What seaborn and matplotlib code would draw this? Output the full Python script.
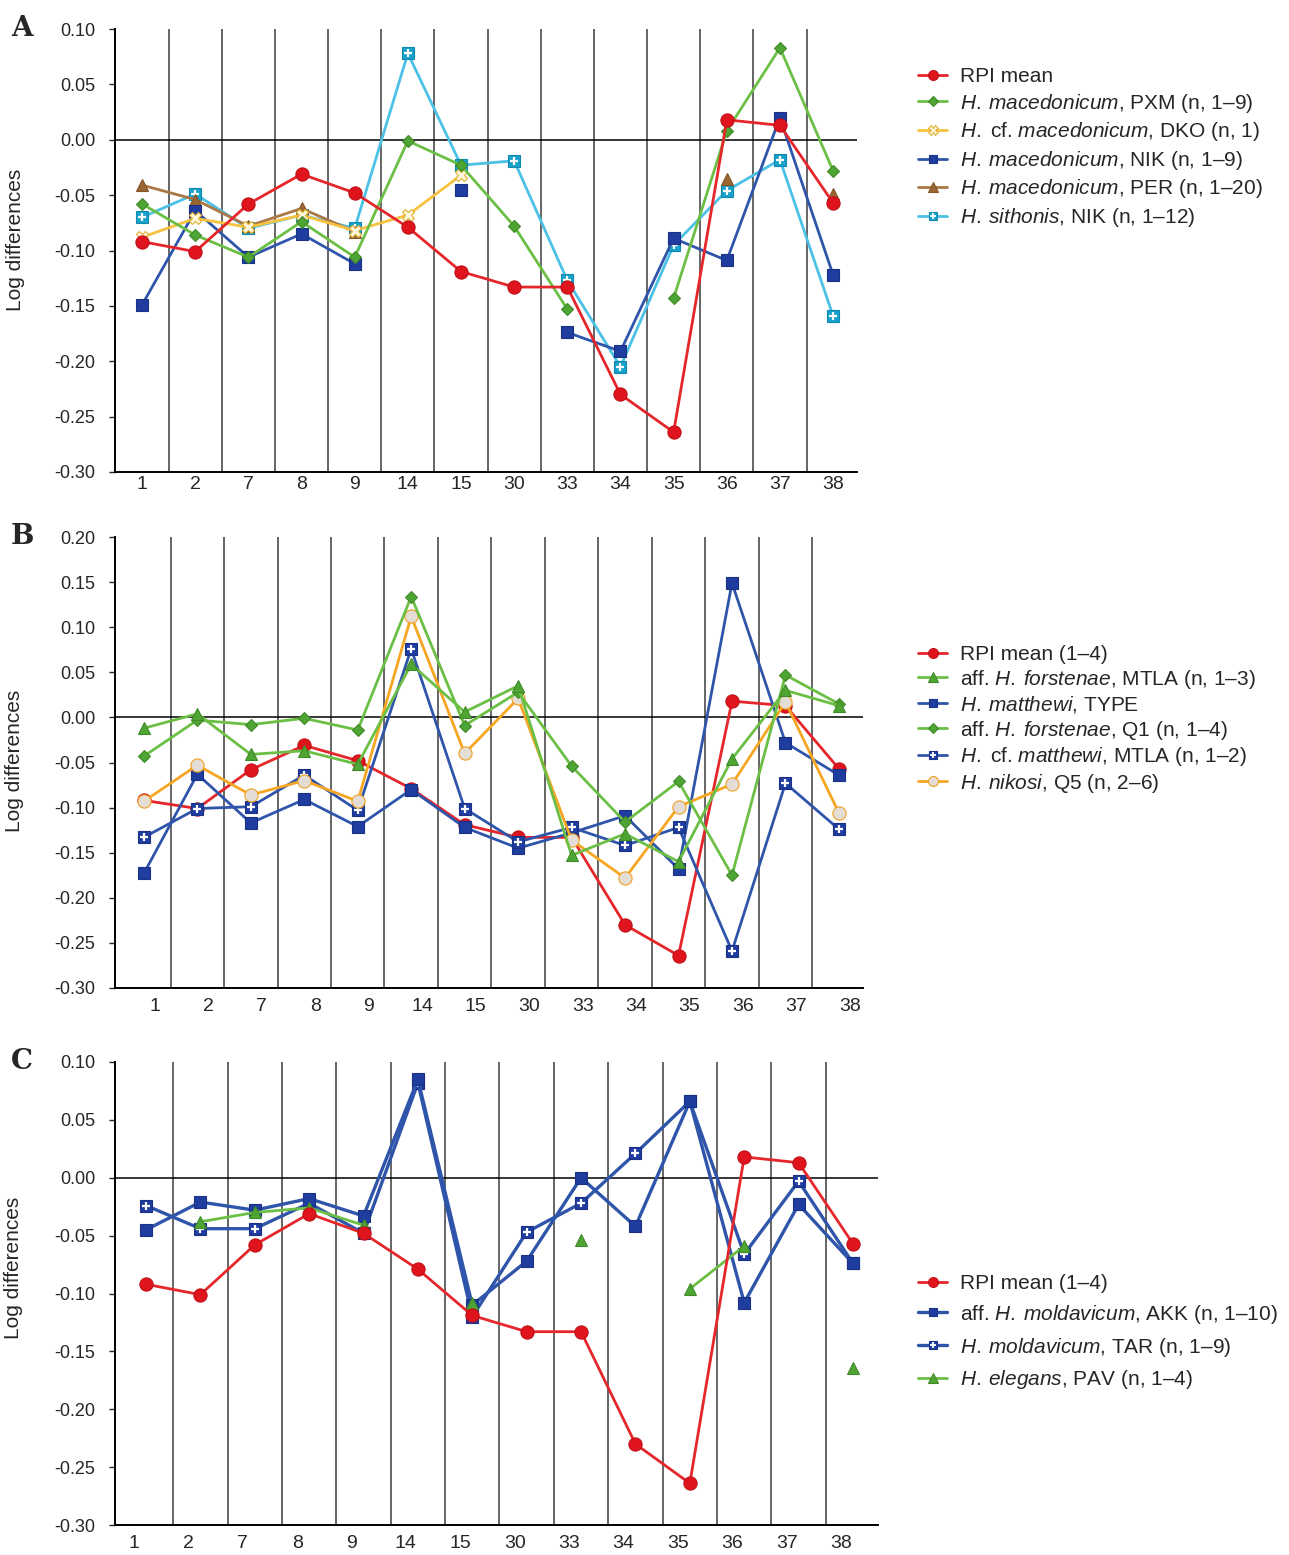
import numpy as np
import pandas as pd
import matplotlib
matplotlib.use("Agg")
import matplotlib.pyplot as plt
import seaborn as sns
from matplotlib.lines import Line2D
from matplotlib.transforms import ScaledTranslation

nan = np.nan

# characters on the x axis
cats = ["1", "2", "7", "8", "9", "14", "15", "30", "33", "34", "35", "36", "37", "38"]

# shared reference series
rpi_mean = [-0.092, -0.101, -0.058, -0.031, -0.048, -0.079, -0.119, -0.133, -0.133, -0.230, -0.264, 0.018, 0.013, -0.057]

# panel A
mac_pxm = [-0.058, -0.086, -0.106, -0.074, -0.106, -0.001, -0.023, -0.078, -0.153, nan, -0.143, 0.008, 0.083, -0.028]
cf_mac_dko = [-0.088, -0.071, -0.079, -0.068, -0.082, -0.068, -0.032, nan, nan, nan, nan, nan, nan, nan]
mac_nik = [-0.149, -0.064, -0.106, -0.085, -0.112, nan, -0.045, nan, -0.174, -0.191, -0.089, -0.109, 0.020, -0.122]
mac_per = [-0.041, -0.054, -0.078, -0.062, -0.083, nan, nan, nan, nan, nan, nan, -0.035, nan, -0.049]
sith_nik = [-0.070, -0.049, -0.080, -0.068, -0.080, 0.078, -0.023, -0.019, -0.127, -0.205, -0.095, -0.046, -0.018, -0.159]

# panel B
forst_mtla = [-0.012, 0.004, -0.041, -0.037, -0.052, 0.059, 0.006, 0.035, -0.153, -0.129, -0.160, -0.046, 0.030, 0.013]
matthewi_type = [-0.173, -0.063, -0.117, -0.091, -0.121, -0.080, -0.122, -0.145, -0.128, -0.109, -0.168, 0.149, -0.028, -0.064]
forst_q1 = [-0.043, -0.003, -0.008, -0.001, -0.014, 0.134, -0.009, 0.028, -0.054, -0.116, -0.071, -0.175, 0.047, 0.015]
cf_matthewi_mtla = [-0.133, -0.101, -0.099, -0.064, -0.103, 0.076, -0.101, -0.138, -0.122, -0.142, -0.122, -0.259, -0.073, -0.124]
nikosi_q5 = [-0.093, -0.053, -0.086, -0.070, -0.093, 0.112, -0.040, 0.021, -0.136, -0.178, -0.099, -0.074, 0.017, -0.106]

# panel C
mold_akk = [-0.045, -0.021, -0.028, -0.018, -0.033, 0.085, -0.110, -0.072, 0.000, -0.042, 0.066, -0.108, -0.023, -0.074]
mold_tar = [-0.024, -0.044, -0.044, -0.022, -0.048, 0.082, -0.120, -0.047, -0.022, 0.021, 0.066, -0.066, -0.003, -0.074]
eleg_pav = [nan, -0.038, -0.030, -0.026, -0.041, nan, -0.108, nan, -0.054, nan, -0.096, -0.059, nan, -0.164]

yticks_a = [-0.30, -0.25, -0.20, -0.15, -0.10, -0.05, 0.00, 0.05, 0.10]
yticks_b = [-0.30, -0.25, -0.20, -0.15, -0.10, -0.05, 0.00, 0.05, 0.10, 0.15, 0.20]
yticks_c = yticks_a

labels_a = ["RPI mean",
            r"$\it{H.\:macedonicum}$, PXM (n, 1–9)",
            r"$\it{H.}$ cf. $\it{macedonicum}$, DKO (n, 1)",
            r"$\it{H.\:macedonicum}$, NIK (n, 1–9)",
            r"$\it{H.\:macedonicum}$, PER (n, 1–20)",
            r"$\it{H.\:sithonis}$, NIK (n, 1–12)"]
labels_b = ["RPI mean (1–4)",
            r"aff. $\it{H.\:forstenae}$, MTLA (n, 1–3)",
            r"$\it{H.\:matthewi}$, TYPE",
            r"aff. $\it{H.\:forstenae}$, Q1 (n, 1–4)",
            r"$\it{H.}$ cf. $\it{matthewi}$, MTLA (n, 1–2)",
            r"$\it{H.\:nikosi}$, Q5 (n, 2–6)"]
labels_c = ["RPI mean (1–4)",
            r"aff. $\it{H.\:moldavicum}$, AKK (n, 1–10)",
            r"$\it{H.\:moldavicum}$, TAR (n, 1–9)",
            r"$\it{H.\:elegans}$, PAV (n, 1–4)"]

sns.set_style("white")
plt.rcParams["font.family"] = ["Liberation Sans", "DejaVu Sans"]
plt.rcParams["mathtext.fontset"] = "custom"
plt.rcParams["mathtext.rm"] = "Liberation Sans"
plt.rcParams["mathtext.it"] = "Liberation Sans:italic"
plt.rcParams["axes.unicode_minus"] = False

RED = dict(color="#e5262b", marker="o", ms=9.5, mfc="#e0141c", mec="#c01018")
GREEN = dict(color="#6cbf45", marker="D", ms=6.5, mfc="#4fa533", mec="#3f8a28")
GREEN_T = dict(color="#6cbf45", marker="^", ms=9, mfc="#4fa533", mec="#3f8a28")
YELLOW = dict(color="#f6c240", marker="X", ms=9, mfc="#fff6dc", mec="#e0b030")
BLUE = dict(color="#2f55aa", marker="s", ms=8.5, mfc="#1f3d9f", mec="#1a3185")
BROWN = dict(color="#a97845", marker="^", ms=9, mfc="#9a6632", mec="#84552a")
CYAN = dict(color="#4cc1e6", marker="s", ms=8.5, mfc="#18a2cb", mec="#1089b0")
BLUE_X = dict(color="#2f55aa", marker="s", ms=8.5, mfc="#1f3d9f", mec="#1a3185")
ORANGE = dict(color="#f5a623", marker="o", ms=9.5, mfc="#e4ddd6", mec="#f0a020")


def segments(vals):
    rows = []
    seg = 0
    for i, v in enumerate(vals):
        if np.isnan(v):
            seg += 1
            continue
        rows.append((i, v, seg))
    return pd.DataFrame(rows, columns=["x", "y", "seg"])


def draw(ax, vals, st, lw=2.0, z=3, plus=False):
    df = segments(vals)
    sns.lineplot(data=df, x="x", y="y", units="seg", estimator=None, ax=ax,
                 color=st["color"], lw=lw, marker=st["marker"], markersize=st["ms"],
                 markerfacecolor=st["mfc"], markeredgecolor=st["mec"],
                 markeredgewidth=0.8, zorder=z)
    if plus:
        sns.scatterplot(data=df, x="x", y="y", marker="+", color="white", s=40,
                        linewidth=1.6, ax=ax, zorder=z + 0.5)


def handle(st, lw=2.0, plus=False):
    h = Line2D([], [], color=st["color"], lw=lw, marker=st["marker"], ms=st["ms"] * 0.75,
               mfc=st["mfc"], mec=st["mec"], mew=0.8)
    if plus:
        p = Line2D([], [], ls="none", marker="+", color="white", ms=5, mew=1.3)
        return (h, p)
    return h


def style_axes(ax, yticks, xlim, dx_px, pad, ylab_y, letter):
    for i in range(len(cats) - 1):
        ax.axvline(i + 0.5, color="#3c3c3c", lw=1.1, zorder=1)
    ax.axhline(0, color="black", lw=1.1, zorder=1)
    ax.set_xlim(*xlim)
    ax.set_ylim(yticks[0], yticks[-1])
    ax.set_xticks(range(len(cats)))
    ax.set_xticklabels(cats, fontsize=14)
    ax.set_yticks(yticks)
    ax.set_yticklabels(["%.2f" % t for t in yticks], fontsize=13)
    ax.tick_params(axis="x", length=0, pad=pad)
    ax.tick_params(axis="y", length=4, width=1, pad=10, left=True, direction="out")
    ax.set_xlabel("")
    ax.set_ylabel("Log differences", fontsize=15)
    ax.yaxis.set_label_coords(-0.121, ylab_y)
    for s in ["top", "right"]:
        ax.spines[s].set_visible(False)
    for s in ["left", "bottom"]:
        ax.spines[s].set_color("black")
        ax.spines[s].set_linewidth(1.4)
    off = ScaledTranslation(dx_px / 100.0, 0, ax.figure.dpi_scale_trans)
    for lab in ax.get_xticklabels():
        lab.set_transform(lab.get_transform() + off)
    pos = ax.get_position()
    ax.figure.text(22 / 1289, pos.y1 + 0.0005, letter, fontsize=20, fontweight="bold",
                   family="DejaVu Serif", ha="center", va="center")


fig = plt.figure(figsize=(12.89, 15.55), dpi=100)
W, H = 1289.0, 1555.0

axA = fig.add_axes([115 / W, 1 - 472 / H, 742 / W, 443 / H])
axB = fig.add_axes([115 / W, 1 - 988 / H, 748 / W, 451 / H])
axC = fig.add_axes([115 / W, 1 - 1525 / H, 763 / W, 463 / H])

# panel A
draw(axA, sith_nik, CYAN, z=3, plus=True)
draw(axA, mac_per, BROWN, z=4)
draw(axA, mac_nik, BLUE, z=5)
draw(axA, cf_mac_dko, YELLOW, z=6)
draw(axA, mac_pxm, GREEN, z=7)
draw(axA, rpi_mean, RED, z=8)
style_axes(axA, yticks_a, (-0.51, 13.45), 0, 3, 0.524, "A")
hA = [handle(RED), handle(GREEN), handle(YELLOW), handle(BLUE), handle(BROWN), handle(CYAN, plus=True)]
fig.legend(hA, labels_a, loc="upper left", bbox_to_anchor=(918 / W, 1 - 67 / H),
           frameon=False, fontsize=15, handlelength=1.4, handletextpad=0.6,
           labelspacing=0.27, borderpad=0, borderaxespad=0)

# panel B
draw(axB, rpi_mean, RED, z=3)
draw(axB, matthewi_type, BLUE, z=4)
draw(axB, cf_matthewi_mtla, BLUE_X, z=5, plus=True)
draw(axB, nikosi_q5, ORANGE, z=6)
draw(axB, forst_q1, GREEN, z=7)
draw(axB, forst_mtla, GREEN_T, z=8)
style_axes(axB, yticks_b, (-0.54, 13.45), 11, 7, 0.503, "B")
hB = [handle(RED), handle(GREEN_T), handle(BLUE), handle(GREEN), handle(BLUE_X, plus=True), handle(ORANGE)]
fig.legend(hB, labels_b, loc="upper left", bbox_to_anchor=(918 / W, 1 - 645 / H),
           frameon=False, fontsize=15, handlelength=1.4, handletextpad=0.6,
           labelspacing=0.17, borderpad=0, borderaxespad=0)

# panel C
draw(axC, mold_tar, BLUE_X, lw=2.4, z=3, plus=True)
draw(axC, mold_akk, BLUE, lw=2.4, z=4)
draw(axC, eleg_pav, GREEN_T, z=5)
draw(axC, rpi_mean, RED, z=6)
style_axes(axC, yticks_c, (-0.57, 13.46), -12, 7, 0.555, "C")
hC = [handle(RED), handle(BLUE, lw=2.4), handle(BLUE_X, lw=2.4, plus=True), handle(GREEN_T)]
fig.legend(hC, labels_c, loc="upper left", bbox_to_anchor=(918 / W, 1 - 1274 / H),
           frameon=False, fontsize=15, handlelength=1.4, handletextpad=0.6,
           labelspacing=0.47, borderpad=0, borderaxespad=0)

fig.savefig("out.png", dpi=100)
